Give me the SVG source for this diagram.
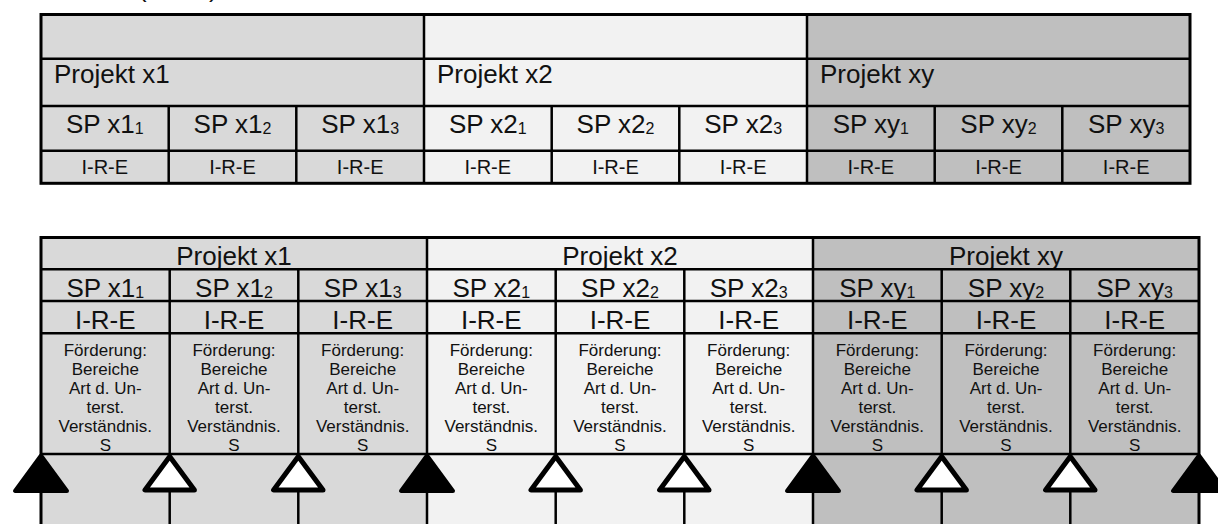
<svg xmlns="http://www.w3.org/2000/svg" width="1218" height="524" viewBox="0 0 1218 524">
<style>
.t{font-family:"Liberation Sans",Arial,sans-serif;fill:#111}
.big{font-size:26px}
.mid{font-size:20px}
.sm{font-size:17px}
.sub{font-size:16px}
.c{text-anchor:middle}
.ln{stroke:#000;stroke-width:2.5;fill:none}
.ob{stroke:#000;stroke-width:3;fill:none}
.p1{fill:#d9d9d9}
.p2{fill:#f2f2f2}
.p3{fill:#bfbfbf}
.tf{fill:#000;stroke:#000;stroke-width:4;stroke-linejoin:round}
.tw{fill:#fff;stroke:#000;stroke-width:5;stroke-linejoin:round}
</style>
<text class="t big" x="138" y="-3">(</text>
<text class="t big" x="209" y="-3">)</text>

<!-- TOP TABLE -->
<g id="top-projekt-x1">
<rect class="p1" x="41" y="14.5" width="383" height="168.8"/>
<text class="t big" x="54" y="83.3">Projekt x1</text>
<text class="t big c" x="104.8" y="132.7">SP x1<tspan class="sub" dy="1">1</tspan></text>
<text class="t big c" x="232.5" y="132.7">SP x1<tspan class="sub" dy="1">2</tspan></text>
<text class="t big c" x="360.2" y="132.7">SP x1<tspan class="sub" dy="1">3</tspan></text>
<text class="t mid c" x="104.8" y="173.5">I-R-E</text>
<text class="t mid c" x="232.5" y="173.5">I-R-E</text>
<text class="t mid c" x="360.2" y="173.5">I-R-E</text>
</g>
<g id="top-projekt-x2">
<rect class="p2" x="424" y="14.5" width="383" height="168.8"/>
<text class="t big" x="437" y="83.3">Projekt x2</text>
<text class="t big c" x="487.8" y="132.7">SP x2<tspan class="sub" dy="1">1</tspan></text>
<text class="t big c" x="615.5" y="132.7">SP x2<tspan class="sub" dy="1">2</tspan></text>
<text class="t big c" x="743.2" y="132.7">SP x2<tspan class="sub" dy="1">3</tspan></text>
<text class="t mid c" x="487.8" y="173.5">I-R-E</text>
<text class="t mid c" x="615.5" y="173.5">I-R-E</text>
<text class="t mid c" x="743.2" y="173.5">I-R-E</text>
</g>
<g id="top-projekt-xy">
<rect class="p3" x="807" y="14.5" width="383" height="168.8"/>
<text class="t big" x="820" y="83.3">Projekt xy</text>
<text class="t big c" x="870.8" y="132.7">SP xy<tspan class="sub" dy="1">1</tspan></text>
<text class="t big c" x="998.5" y="132.7">SP xy<tspan class="sub" dy="1">2</tspan></text>
<text class="t big c" x="1126.2" y="132.7">SP xy<tspan class="sub" dy="1">3</tspan></text>
<text class="t mid c" x="870.8" y="173.5">I-R-E</text>
<text class="t mid c" x="998.5" y="173.5">I-R-E</text>
<text class="t mid c" x="1126.2" y="173.5">I-R-E</text>
</g>
<g id="top-grid">
<path class="ln" d="M41 58.7H1190M41 106H1190M41 150.7H1190M424 14.5V183.3M807 14.5V183.3M168.7 106V183.3M296.3 106V183.3M551.7 106V183.3M679.3 106V183.3M934.7 106V183.3M1062.3 106V183.3"/>
<rect class="ob" x="41" y="14.5" width="1149" height="168.8"/>
</g>

<!-- BOTTOM TABLE -->
<g id="bottom-projekt-x1">
<rect class="p1" x="41" y="237.5" width="386" height="300"/>
<text class="t big c" x="234" y="265">Projekt x1</text>
<text class="t big c" x="105.3" y="296.7">SP x1<tspan class="sub" dy="1">1</tspan></text>
<text class="t big c" x="234" y="296.7">SP x1<tspan class="sub" dy="1">2</tspan></text>
<text class="t big c" x="362.7" y="296.7">SP x1<tspan class="sub" dy="1">3</tspan></text>
<text class="t big c" x="105.3" y="328.5">I-R-E</text>
<text class="t big c" x="234" y="328.5">I-R-E</text>
<text class="t big c" x="362.7" y="328.5">I-R-E</text>
</g>
<g id="bottom-projekt-x2">
<rect class="p2" x="427" y="237.5" width="386" height="300"/>
<text class="t big c" x="620" y="265">Projekt x2</text>
<text class="t big c" x="491.3" y="296.7">SP x2<tspan class="sub" dy="1">1</tspan></text>
<text class="t big c" x="620" y="296.7">SP x2<tspan class="sub" dy="1">2</tspan></text>
<text class="t big c" x="748.7" y="296.7">SP x2<tspan class="sub" dy="1">3</tspan></text>
<text class="t big c" x="491.3" y="328.5">I-R-E</text>
<text class="t big c" x="620" y="328.5">I-R-E</text>
<text class="t big c" x="748.7" y="328.5">I-R-E</text>
</g>
<g id="bottom-projekt-xy">
<rect class="p3" x="813" y="237.5" width="386" height="300"/>
<text class="t big c" x="1006" y="265">Projekt xy</text>
<text class="t big c" x="877.3" y="296.7">SP xy<tspan class="sub" dy="1">1</tspan></text>
<text class="t big c" x="1006" y="296.7">SP xy<tspan class="sub" dy="1">2</tspan></text>
<text class="t big c" x="1134.7" y="296.7">SP xy<tspan class="sub" dy="1">3</tspan></text>
<text class="t big c" x="877.3" y="328.5">I-R-E</text>
<text class="t big c" x="1006" y="328.5">I-R-E</text>
<text class="t big c" x="1134.7" y="328.5">I-R-E</text>
</g>
<defs>
<g id="fd">
<text class="t sm c" x="0" y="355.7">Förderung:</text>
<text class="t sm c" x="0" y="374.7">Bereiche</text>
<text class="t sm c" x="0" y="393.7">Art d. Un-</text>
<text class="t sm c" x="0" y="412.7">terst.</text>
<text class="t sm c" x="0" y="431.7">Verständnis.</text>
<text class="t sm c" x="0" y="450.5">S</text>
</g>
</defs>
<g id="bottom-foerderung">
<use href="#fd" x="105.3"/>
<use href="#fd" x="234"/>
<use href="#fd" x="362.7"/>
<use href="#fd" x="491.3"/>
<use href="#fd" x="620"/>
<use href="#fd" x="748.7"/>
<use href="#fd" x="877.3"/>
<use href="#fd" x="1006"/>
<use href="#fd" x="1134.7"/>
</g>
<g id="connectors">
<path class="ln" d="M41 269.3H1199M41 301H1199M41 333.3H1199M41 454H1199M169.7 269.3V530M298.3 269.3V530M555.7 269.3V530M684.3 269.3V530M941.7 269.3V530M1070.3 269.3V530M427 237.5V530M813 237.5V530"/>
<path class="ob" d="M41 530V237.5H1199V530"/>
<polygon class="tf" points="41,455.5 15,491 67,491"/>
<polygon class="tf" points="427,455.5 401,491 453,491"/>
<polygon class="tf" points="813,455.5 787,491 839,491"/>
<polygon class="tf" points="1199,455.5 1173,491 1225,491"/>
<polygon class="tw" points="169.7,456.5 145,490 194.4,490"/>
<polygon class="tw" points="298.3,456.5 273.6,490 323,490"/>
<polygon class="tw" points="555.7,456.5 531,490 580.4,490"/>
<polygon class="tw" points="684.3,456.5 659.6,490 709,490"/>
<polygon class="tw" points="941.7,456.5 917,490 966.4,490"/>
<polygon class="tw" points="1070.3,456.5 1045.6,490 1095,490"/>
</g>
</svg>
